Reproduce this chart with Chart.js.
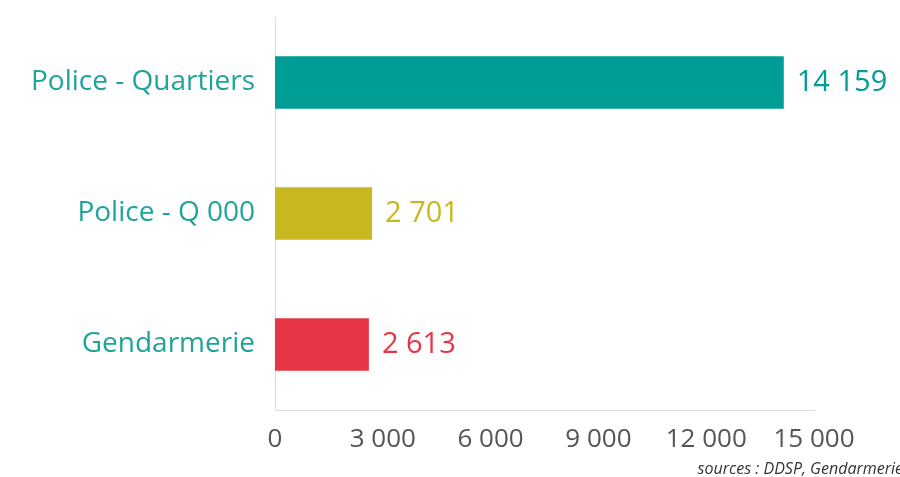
<!DOCTYPE html>
<html>
<head>
<meta charset="utf-8">
<script src="https://cdn.jsdelivr.net/npm/chart.js@4"></script>
<style>
  html,body{margin:0;padding:0;background:#fff;}
  #wrap{position:relative;width:900px;height:477px;}
</style>
</head>
<body>
<div id="wrap"><canvas id="c" width="900" height="477"></canvas></div>
<script>
const categories = ["Police - Quartiers", "Police - Q 000", "Gendarmerie"];
const values = [14159, 2701, 2613];
const barColors = ["#009C96", "#C8B721", "#E73545"];
const xTicks = [0, 3000, 6000, 9000, 12000, 15000];
const source = "sources : DDSP, Gendarmerie";

const FONT = "'Open Sans', Lato, sans-serif";
const fmt = v => String(v).replace(/\B(?=(\d{3})+(?!\d))/g, " ");

const valueLabels = {
  id: "valueLabels",
  afterDatasetsDraw(chart){
    const ctx = chart.ctx;
    const meta = chart.getDatasetMeta(0);
    ctx.save();
    ctx.font = "29px " + FONT;
    ctx.textBaseline = "middle";
    ctx.textAlign = "left";
    meta.data.forEach((bar, i) => {
      ctx.fillStyle = barColors[i];
      ctx.fillText(fmt(values[i]), bar.x + 13, bar.y);
    });
    ctx.font = "italic 16px " + FONT;
    ctx.fillStyle = "#333";
    ctx.textAlign = "right";
    ctx.fillText(source, 903, 469);
    ctx.restore();
  }
};

new Chart(document.getElementById("c").getContext("2d"), {
  type: "bar",
  data: { labels: categories, datasets: [
    { data: values, backgroundColor: barColors, barPercentage: 0.4, categoryPercentage: 1 }
  ]},
  options: {
    indexAxis: "y",
    responsive: false, animation: false,
    layout: { padding: { top: 17, right: 86, bottom: 0, left: 0 } },
    plugins: { legend: { display: false }, tooltip: { enabled: false } },
    scales: {
      x: {
        min: 0, max: 15000,
        afterBuildTicks: s => { s.ticks = xTicks.map(v => ({ value: v })); },
        afterFit: s => { s.height = 67; s.paddingLeft = 0; s.paddingRight = 0; },
        grid: { display: false, drawTicks: false },
        border: { display: true, color: "#dddddd", width: 1 },
        ticks: { padding: 14, color: "#555", font: { family: FONT, size: 26 }, callback: v => fmt(v), maxRotation: 0, autoSkip: false }
      },
      y: {
        afterFit: s => { s.width = 275; s.paddingTop = 0; s.paddingBottom = 0; },
        grid: { display: false, drawTicks: false },
        border: { display: true, color: "#dddddd", width: 1 },
        ticks: { padding: 20, color: "#1FA39B", font: { family: FONT, size: 28 } }
      }
    }
  },
  plugins: [valueLabels]
});
</script>
</body>
</html>
